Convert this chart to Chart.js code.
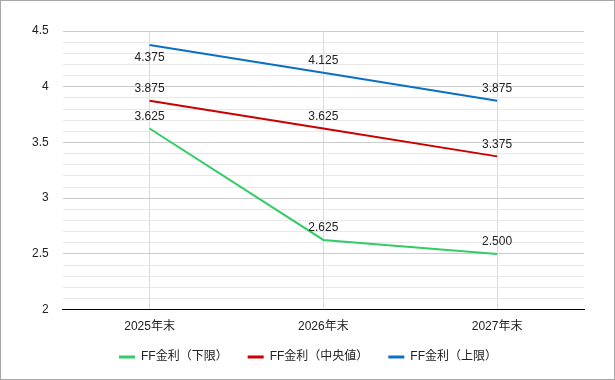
<!DOCTYPE html>
<html><head><meta charset="utf-8">
<script src="https://cdn.jsdelivr.net/npm/chart.js@4/dist/chart.umd.min.js"></script>
<style>
html,body{margin:0;padding:0;background:#fff;}
#wrap{position:absolute;left:0;top:0;width:613px;height:378px;border:1px solid #a6a6a6;}
canvas{display:block;}
</style></head><body>
<div id="wrap"><canvas id="c" width="613" height="378"></canvas></div>
<script>
const categories = ["2025年末","2026年末","2027年末"];
const lowerValues = [3.625, 2.625, 2.5];
const medianValues = [3.875, 3.625, 3.375];
const upperValues = [4.375, 4.125, 3.875];
const seriesNames = ["FF金利（下限）","FF金利（中央値）","FF金利（上限）"];
const labelTexts = {
  lower: ["3.625","2.625","2.500"],
  median: ["3.875","3.625","3.375"],
  upper: ["4.375","4.125","3.875"]
};
const FONT = "'Liberation Sans', Arial, 'Noto Sans CJK JP', sans-serif";
const LEGEND_LIFT = 13;
const LEGEND_SHIFT = 7;

const valueLabels = {
  id: 'valueLabels',
  afterDatasetsDraw(chart) {
    const ctx = chart.ctx;
    const top = chart.chartArea.top;
    ctx.save();
    ctx.font = "12px " + FONT;
    ctx.fillStyle = "#222";
    ctx.textAlign = "center";
    ctx.textBaseline = "middle";
    chart.data.datasets.forEach((ds, di) => {
      const meta = chart.getDatasetMeta(di);
      meta.data.forEach((pt, i) => {
        let y = pt.y - 12;
        if (y - 8 < top + 10) y = pt.y + 13;
        ctx.fillText(ds.valueText[i], pt.x, y);
      });
    });
    ctx.restore();
  }
};

const legendLift = {
  id: 'legendLift',
  beforeLayout(chart) {
    const lg = chart.legend;
    if (!lg || lg._lifted) return;
    lg._lifted = true;
    const of = lg.fit;
    lg.fit = function() { of.call(this); this.height -= LEGEND_LIFT; };
    const od = lg.draw;
    lg.draw = function() {
      this.top -= LEGEND_LIFT;
      this.left += LEGEND_SHIFT; this.right += LEGEND_SHIFT;
      od.call(this);
      this.top += LEGEND_LIFT;
      this.left -= LEGEND_SHIFT; this.right -= LEGEND_SHIFT;
    };
  }
};

new Chart(document.getElementById('c'), {
  type: 'line',
  data: {
    labels: categories,
    datasets: [
      {label: seriesNames[0], data: lowerValues, valueText: labelTexts.lower, borderColor: '#33cc66', backgroundColor: '#33cc66', borderWidth: 2, pointRadius: 0, tension: 0},
      {label: seriesNames[1], data: medianValues, valueText: labelTexts.median, borderColor: '#cc0000', backgroundColor: '#cc0000', borderWidth: 2, pointRadius: 0, tension: 0},
      {label: seriesNames[2], data: upperValues, valueText: labelTexts.upper, borderColor: '#0b70c4', backgroundColor: '#0b70c4', borderWidth: 2, pointRadius: 0, tension: 0}
    ]
  },
  options: {
    responsive: false,
    animation: false,
    layout: {padding: {top: 30, right: 30, left: 17, bottom: 6}},
    plugins: {
      legend: {
        position: 'bottom',
        labels: {
          boxWidth: 16, boxHeight: 3, padding: 20,
          color: '#222',
          font: {size: 12, family: FONT},
          generateLabels: (chart) => {
            const items = Chart.defaults.plugins.legend.labels.generateLabels(chart);
            items.forEach(it => { it.lineWidth = 0; it.strokeStyle = 'rgba(0,0,0,0)'; });
            return items;
          }
        }
      },
      tooltip: {enabled: false}
    },
    scales: {
      x: {
        offset: true,
        grid: {offset: false, color: '#d9d9d9', drawTicks: false},
        border: {display: true, color: '#000', width: 1},
        ticks: {padding: 10, color: '#222', font: {size: 12, family: FONT}}
      },
      y: {
        min: 2, max: 4.5,
        border: {display: false},
        grid: {
          drawTicks: false,
          color: (c) => {
            const v = Math.round(c.tick.value * 10);
            return v % 5 === 0 ? '#cccccc' : '#e8e8e8';
          }
        },
        ticks: {
          stepSize: 0.1,
          autoSkip: false,
          padding: 14,
          color: '#222',
          font: {size: 12, family: FONT},
          callback: (v) => {
            const t = Math.round(v * 10);
            return t % 5 === 0 ? String(t / 10) : '';
          }
        }
      }
    }
  },
  plugins: [valueLabels, legendLift]
});
</script>
</body></html>
